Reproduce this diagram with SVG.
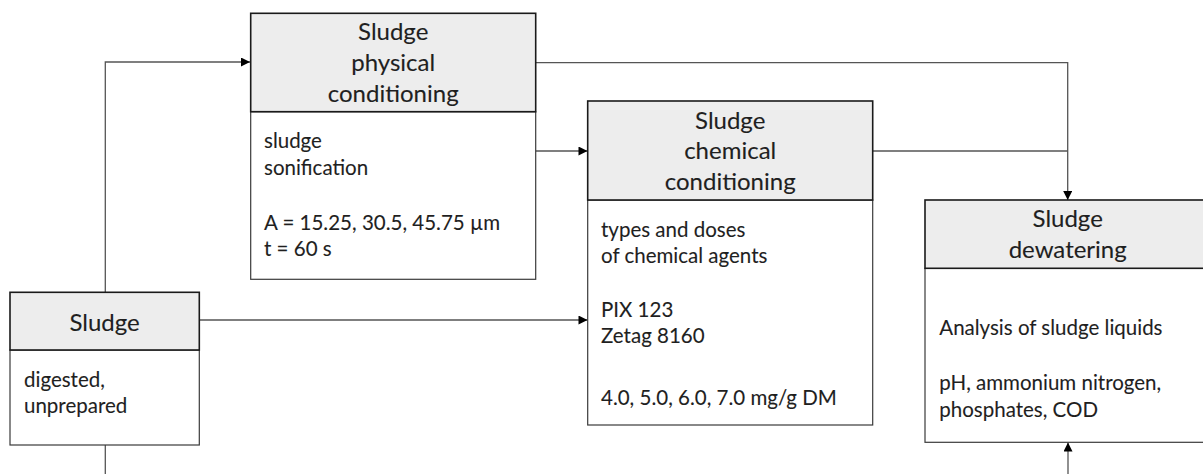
<svg xmlns="http://www.w3.org/2000/svg" width="1203" height="474" viewBox="0 0 1203 474">
  <style>
    .head { fill: #ededed; stroke: #1a1a1a; stroke-width: 1.6; }
    .body { fill: #ffffff; stroke: #3a3a3a; stroke-width: 1.2; }
    .ht { font-family: Lato, "Liberation Sans", sans-serif; font-size: 24px; fill: #1f1f1f; stroke: #1f1f1f; stroke-width: 0.12; text-anchor: middle; }
    .bt { font-family: Lato, "Liberation Sans", sans-serif; font-size: 20.5px; fill: #1f1f1f; stroke: #1f1f1f; stroke-width: 0.1; }
    .conn { fill: none; stroke: #555555; stroke-width: 1.3; }
  </style>
  <defs>
    <marker id="arrow" viewBox="0 0 10 10" refX="10" refY="5" markerWidth="10" markerHeight="9" markerUnits="userSpaceOnUse" orient="auto">
      <path d="M0,0 L10,5 L0,10 Z" fill="#000000"/>
    </marker>
  </defs>

  <!-- connectors -->
  <g id="connectors">
    <path class="conn" d="M105.3,292 V62 H250" marker-end="url(#arrow)"/>
    <path class="conn" d="M105.3,445 V474"/>
    <path class="conn" d="M199.5,320 H587.5" marker-end="url(#arrow)"/>
    <path class="conn" d="M535.7,151 H587.5" marker-end="url(#arrow)"/>
    <path class="conn" d="M535.7,62.7 H1067.7 V200" marker-end="url(#arrow)"/>
    <path class="conn" d="M872.7,151 H1067.7"/>
    <path class="conn" d="M1068,474 V442.5" marker-end="url(#arrow)"/>
  </g>

  <!-- source sludge -->
  <g id="node-sludge">
    <rect class="body" x="10" y="350" width="189.3" height="95"/>
    <rect class="head" x="10" y="292.3" width="189.3" height="57.7"/>
    <text class="ht" x="104.6" y="330.5">Sludge</text>
    <text class="bt" x="24" y="386.5">digested,</text>
    <text class="bt" x="24" y="412.5">unprepared</text>
  </g>

  <!-- physical conditioning -->
  <g id="node-physical">
    <rect class="body" x="250.7" y="111.7" width="285" height="167.6"/>
    <rect class="head" x="250.7" y="13.3" width="285" height="98.4"/>
    <text class="ht" x="393.2" y="40">Sludge</text>
    <text class="ht" x="393.2" y="71">physical</text>
    <text class="ht" x="393.2" y="102">conditioning</text>
    <text class="bt" x="264" y="148.3">sludge</text>
    <text class="bt" x="264" y="175.3">sonification</text>
    <text class="bt" x="264" y="229.5">A = 15.25, 30.5, 45.75 µm</text>
    <text class="bt" x="264" y="256.3">t = 60 s</text>
  </g>

  <!-- chemical conditioning -->
  <g id="node-chemical">
    <rect class="body" x="587.7" y="200" width="285" height="225"/>
    <rect class="head" x="587.7" y="101" width="285" height="99"/>
    <text class="ht" x="730.2" y="128.5">Sludge</text>
    <text class="ht" x="730.2" y="159.3">chemical</text>
    <text class="ht" x="730.2" y="190">conditioning</text>
    <text class="bt" x="601" y="236.7">types and doses</text>
    <text class="bt" x="601" y="262.7">of chemical agents</text>
    <text class="bt" x="601" y="316.7">PIX 123</text>
    <text class="bt" x="601" y="342.7">Zetag 8160</text>
    <text class="bt" x="601" y="405">4.0, 5.0, 6.0, 7.0 mg/g DM</text>
  </g>

  <!-- dewatering -->
  <g id="node-dewatering">
    <rect class="body" x="925" y="268.3" width="286" height="174"/>
    <rect class="head" x="925" y="200" width="286" height="68.3"/>
    <text class="ht" x="1067.7" y="226.5">Sludge</text>
    <text class="ht" x="1067.7" y="258">dewatering</text>
    <text class="bt" x="939.3" y="335">Analysis of sludge liquids</text>
    <text class="bt" x="939.3" y="390">pH, ammonium nitrogen,</text>
    <text class="bt" x="939.3" y="416.7">phosphates, COD</text>
  </g>
</svg>
